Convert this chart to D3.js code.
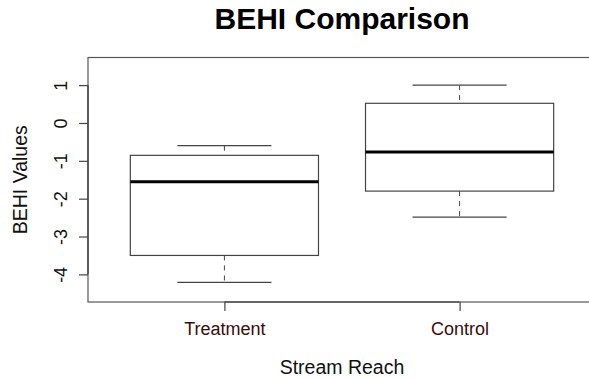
<!DOCTYPE html>
<html>
<head>
<meta charset="utf-8">
<script src="https://cdn.jsdelivr.net/npm/d3@7/dist/d3.min.js"></script>
<style>
  html, body { margin: 0; padding: 0; background: #fff; }
  svg { display: block; font-family: "Liberation Sans", Arial, Helvetica, sans-serif; }
</style>
</head>
<body>
<svg id="chart" width="589" height="378"></svg>
<script>
// Five-number summaries per stream reach
const categories = ["Treatment", "Control"];
const whiskerLow  = [-4.21, -2.49];
const quartile1   = [-3.50, -1.80];
const medians     = [-1.55, -0.77];
const quartile3   = [-0.855, 0.52];
const whiskerHigh = [-0.60, 1.00];

const yTicks = [-4, -3, -2, -1, 0, 1];
const yLimits = [-4.73, 1.73];

const title = "BEHI Comparison";
const xTitle = "Stream Reach";
const yTitle = "BEHI Values";

const svg = d3.select("#chart");

// Plot region (right edge runs past the canvas)
const plot = { left: 88, right: 596, top: 57.5, bottom: 302 };

// Category positions 1..n on a linear scale padded like base-graphics boxplots
const n = categories.length;
const x = d3.scaleLinear()
  .domain([0.5 - 0.04 * n, n + 0.5 + 0.04 * n])
  .range([plot.left, plot.right]);
const y = d3.scaleLinear().domain(yLimits).range([plot.bottom, plot.top]);

const boxHalf = (x(1.4) - x(1));      // boxwex 0.8
const capHalf = boxHalf / 2;          // staplewex 0.5

const boxes = categories.map((c, i) => ({
  name: c, pos: i + 1,
  lo: whiskerLow[i], q1: quartile1[i], med: medians[i], q3: quartile3[i], hi: whiskerHigh[i]
}));

const g = svg.append("g");

boxes.forEach(b => {
  const cx = x(b.pos);
  const grp = g.append("g");
  // dashed whiskers
  grp.append("line")
    .attr("x1", cx).attr("x2", cx).attr("y1", y(b.hi)).attr("y2", y(b.q3))
    .attr("stroke", "#444").attr("stroke-width", 1).attr("stroke-dasharray", "5,5");
  grp.append("line")
    .attr("x1", cx).attr("x2", cx).attr("y1", y(b.q1)).attr("y2", y(b.lo))
    .attr("stroke", "#444").attr("stroke-width", 1).attr("stroke-dasharray", "5,5");
  // staples
  [b.hi, b.lo].forEach(v => {
    grp.append("line")
      .attr("x1", cx - capHalf).attr("x2", cx + capHalf)
      .attr("y1", y(v)).attr("y2", y(v))
      .attr("stroke", "#444").attr("stroke-width", 1.2);
  });
  // box
  grp.append("rect")
    .attr("x", cx - boxHalf).attr("y", y(b.q3))
    .attr("width", 2 * boxHalf).attr("height", y(b.q1) - y(b.q3))
    .attr("fill", "#fff").attr("stroke", "#444").attr("stroke-width", 1.2);
  // median
  grp.append("line")
    .attr("x1", cx - boxHalf).attr("x2", cx + boxHalf)
    .attr("y1", y(b.med)).attr("y2", y(b.med))
    .attr("stroke", "#000").attr("stroke-width", 3);
});

// plot frame
svg.append("rect")
  .attr("x", plot.left).attr("y", plot.top)
  .attr("width", plot.right - plot.left).attr("height", plot.bottom - plot.top)
  .attr("fill", "none").attr("stroke", "#555").attr("stroke-width", 1.2);

// y axis
const yAxis = svg.append("g")
  .attr("transform", `translate(${plot.left},0)`)
  .call(d3.axisLeft(y).tickValues(yTicks).tickSize(9).tickSizeOuter(0).tickFormat(d => String(d)).tickPadding(0));
yAxis.select(".domain").attr("d", `M0,${y(d3.max(yTicks))}V${y(d3.min(yTicks))}`)
  .attr("stroke", "#333").attr("stroke-width", 1.2);
yAxis.selectAll(".tick line").attr("stroke", "#444").attr("stroke-width", 1.2);
yAxis.selectAll(".tick text")
  .attr("x", null).attr("dy", null)
  .attr("transform", "translate(-21,0) rotate(-90)")
  .attr("text-anchor", "middle")
  .attr("font-size", 18).attr("fill", "#111")
  .attr("font-family", "'Liberation Sans', Arial, sans-serif");

// x axis
const xAxis = svg.append("g")
  .attr("transform", `translate(0,${plot.bottom})`)
  .call(d3.axisBottom(x).tickValues(boxes.map(b => b.pos)).tickSize(9).tickSizeOuter(0)
    .tickFormat((d) => categories[d - 1]).tickPadding(0));
xAxis.select(".domain").attr("d", `M${x(1)},0H${x(n)}`)
  .attr("stroke", "#333").attr("stroke-width", 1.2);
xAxis.selectAll(".tick line").attr("stroke", "#444").attr("stroke-width", 1.2);
xAxis.selectAll(".tick text")
  .attr("y", 33).attr("dy", null)
  .attr("font-size", 18).attr("fill", "#3a0c0c")
  .attr("font-family", "'Liberation Sans', Arial, sans-serif");

// titles
svg.append("text")
  .attr("x", (plot.left + plot.right) / 2).attr("y", 29)
  .attr("text-anchor", "middle").attr("font-size", 30).attr("font-weight", "bold")
  .attr("fill", "#000").text(title);

svg.append("text")
  .attr("x", (plot.left + plot.right) / 2).attr("y", 374)
  .attr("text-anchor", "middle").attr("font-size", 19.5)
  .attr("fill", "#111").text(xTitle);

svg.append("text")
  .attr("transform", `translate(27,${(plot.top + plot.bottom) / 2}) rotate(-90)`)
  .attr("text-anchor", "middle").attr("font-size", 19.5)
  .attr("fill", "#111").text(yTitle);
</script>
</body>
</html>
